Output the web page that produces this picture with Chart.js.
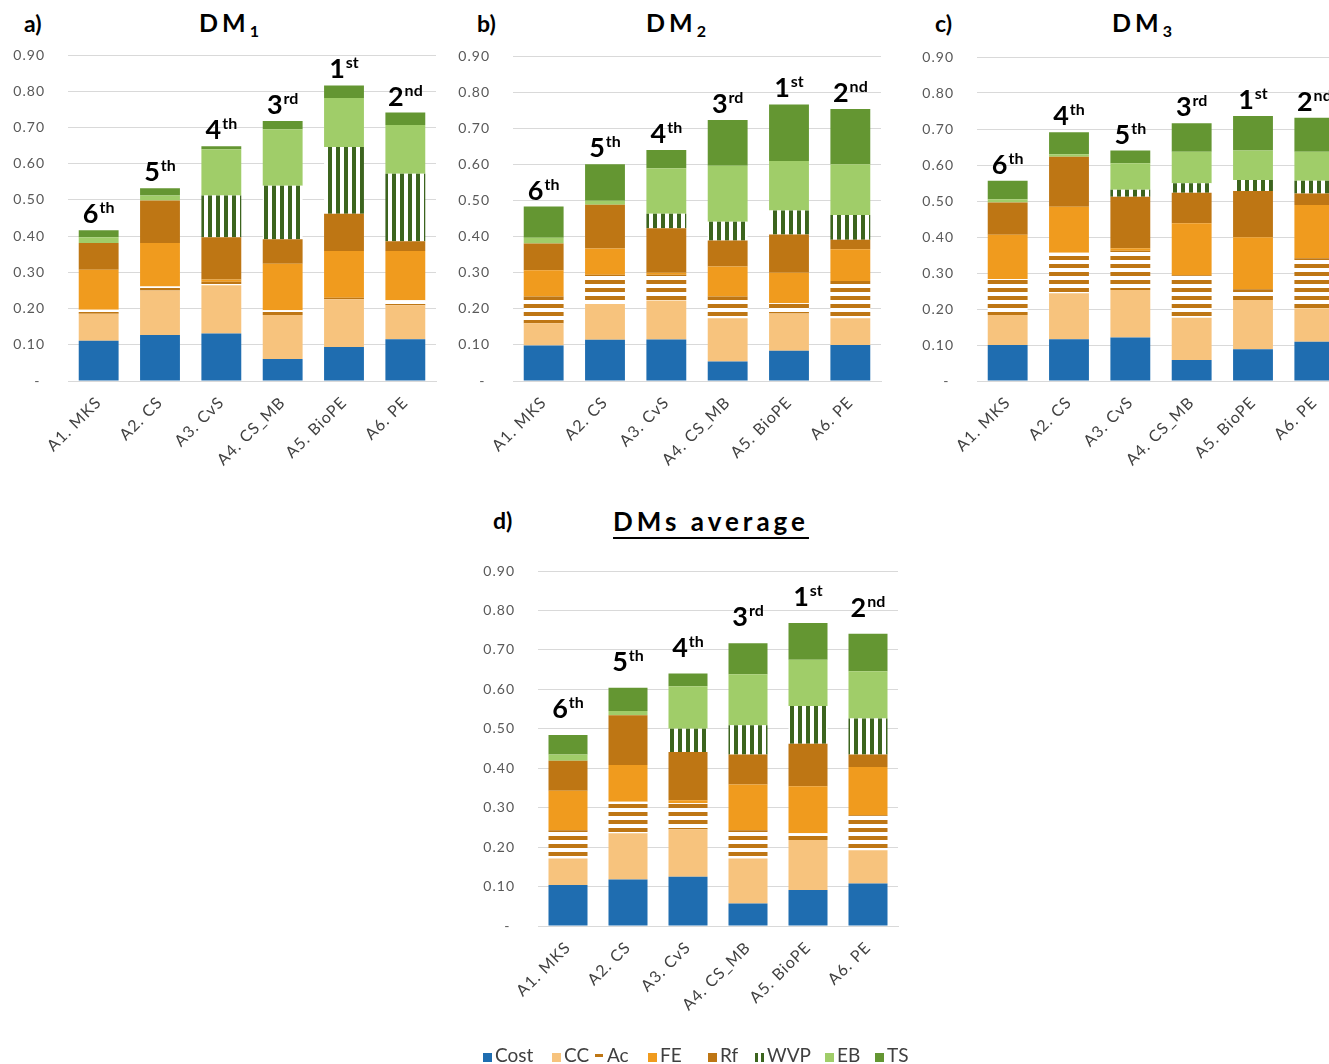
<!DOCTYPE html>
<html>
<head>
<meta charset="utf-8">
<script src="https://cdn.jsdelivr.net/npm/chart.js@4.4.1/dist/chart.umd.min.js"></script>
<style>
  body { margin: 0; width: 1329px; height: 1064px; overflow: hidden; position: relative; background: #fff; font-family: Lato, "Open Sans", sans-serif; color: #000; }
  canvas { position: absolute; }
  .tag { position: absolute; font-weight: bold; font-size: 23px; line-height: 1; }
  .ttl { position: absolute; width: 200px; text-align: center; font-weight: bold; font-size: 25px; letter-spacing: 4px; line-height: 1; }
  .ttl sub { font-size: 16px; letter-spacing: 0; vertical-align: -5px; }
  .avg { width: 300px; font-size: 26px; text-decoration: underline; text-decoration-thickness: 2px; text-underline-offset: 6px; }
  .leg { position: absolute; top: 1045px; font-size: 19px; line-height: 1; color: #404040; white-space: nowrap; }
  .sw { display: inline-block; width: 9px; height: 9px; margin-right: 3px; vertical-align: 0; }
  .dash { display: inline-block; width: 8px; height: 3px; margin-right: 4px; vertical-align: 5px; background: #be7614; }
  .bars { display: inline-block; width: 10px; height: 9px; margin-right: 2px; vertical-align: 0;
          background: linear-gradient(to right, #3c641e 0 3px, transparent 3px 6px, #3c641e 6px 9px, transparent 9px); }
</style>
</head>
<body>

<div class="tag" style="left:24px;top:12px">a)</div>
<div class="ttl" style="left:129px;top:10px">DM<sub>1</sub></div>
<div class="tag" style="left:477px;top:12px">b)</div>
<div class="ttl" style="left:576px;top:10px">DM<sub>2</sub></div>
<div class="tag" style="left:935px;top:12px">c)</div>
<div class="ttl" style="left:1042px;top:10px">DM<sub>3</sub></div>
<div class="tag" style="left:493px;top:509px">d)</div>
<div class="ttl avg" style="left:561px;top:508px">DMs average</div>

<canvas id="chartDM1" width="450" height="490" style="left:0;top:0"></canvas>
<canvas id="chartDM2" width="450" height="490" style="left:445px;top:0"></canvas>
<canvas id="chartDM3" width="450" height="490" style="left:909px;top:0"></canvas>
<canvas id="chartAvg" width="442" height="564" style="left:470px;top:500px"></canvas>

<div class="leg" style="left:483px"><span class="sw" style="background:#1f6db0"></span>Cost</div>
<div class="leg" style="left:552px"><span class="sw" style="background:#f7c37d"></span>CC</div>
<div class="leg" style="left:595px"><span class="dash"></span>Ac</div>
<div class="leg" style="left:648px"><span class="sw" style="background:#f09b1e"></span>FE</div>
<div class="leg" style="left:708px"><span class="sw" style="background:#be7614"></span>Rf</div>
<div class="leg" style="left:755px"><span class="bars"></span>WVP</div>
<div class="leg" style="left:825px"><span class="sw" style="background:#a0cd69"></span>EB</div>
<div class="leg" style="left:875px"><span class="sw" style="background:#649632"></span>TS</div>

<script>
// Alternatives on the x axis
const categories = ['A1. MKS', 'A2. CS', 'A3. CvS', 'A4. CS_MB', 'A5. BioPE', 'A6. PE'];
// Criteria, stacked bottom to top
const criteria = ['Cost', 'CC', 'Ac', 'FE', 'Rf', 'WVP', 'EB', 'TS'];
// Value axis ticks
const yMax = 0.9;
const yStep = 0.1;

// Weighted scores, one row per criterion (same order as `criteria`), one column per alternative
const dm1Scores = [
  [0.111, 0.127, 0.131, 0.061, 0.094, 0.115], // Cost
  [0.075, 0.123, 0.133, 0.121, 0.132, 0.094], // CC
  [0.011, 0.011, 0.010, 0.013, 0.004, 0.014], // Ac
  [0.110, 0.120, 0.006, 0.129, 0.129, 0.136], // FE
  [0.074, 0.117, 0.117, 0.067, 0.103, 0.027], // Rf
  [0.000, 0.000, 0.115, 0.148, 0.184, 0.186], // WVP
  [0.016, 0.014, 0.128, 0.156, 0.135, 0.135], // EB
  [0.019, 0.020, 0.008, 0.023, 0.035, 0.034]  // TS
];
const dm2Scores = [
  [0.098, 0.114, 0.115, 0.054, 0.084, 0.100],
  [0.062, 0.099, 0.108, 0.120, 0.103, 0.074],
  [0.074, 0.081, 0.071, 0.060, 0.028, 0.103],
  [0.073, 0.073, 0.006, 0.083, 0.085, 0.088],
  [0.074, 0.121, 0.123, 0.072, 0.106, 0.026],
  [0.000, 0.000, 0.040, 0.052, 0.066, 0.069],
  [0.016, 0.011, 0.126, 0.155, 0.137, 0.140],
  [0.086, 0.101, 0.051, 0.127, 0.157, 0.153]
];
const dm3Scores = [
  [0.100, 0.116, 0.121, 0.058, 0.088, 0.109],
  [0.083, 0.128, 0.132, 0.118, 0.137, 0.093],
  [0.100, 0.112, 0.109, 0.118, 0.030, 0.139],
  [0.123, 0.128, 0.007, 0.144, 0.144, 0.148],
  [0.090, 0.139, 0.143, 0.085, 0.129, 0.032],
  [0.000, 0.000, 0.019, 0.026, 0.030, 0.035],
  [0.009, 0.007, 0.074, 0.088, 0.082, 0.081],
  [0.051, 0.061, 0.035, 0.079, 0.096, 0.094]
];
const avgScores = [
  [0.104, 0.118, 0.125, 0.057, 0.091, 0.108],
  [0.067, 0.117, 0.120, 0.114, 0.127, 0.084],
  [0.072, 0.080, 0.066, 0.072, 0.017, 0.089],
  [0.100, 0.093, 0.008, 0.116, 0.119, 0.122],
  [0.076, 0.126, 0.122, 0.076, 0.108, 0.032],
  [0.000, 0.000, 0.059, 0.074, 0.096, 0.091],
  [0.016, 0.011, 0.108, 0.129, 0.117, 0.120],
  [0.049, 0.059, 0.032, 0.079, 0.093, 0.095]
];

// Final ranking of each alternative
const dm1Ranks = [6, 5, 4, 3, 1, 2];
const dm2Ranks = [6, 5, 4, 3, 1, 2];
const dm3Ranks = [6, 4, 5, 3, 1, 2];
const avgRanks = [6, 5, 4, 3, 1, 2];

function ordinalSuffix(n) {
  return n === 1 ? 'st' : n === 2 ? 'nd' : n === 3 ? 'rd' : 'th';
}

// Striped fills for Ac (horizontal) and WVP (vertical)
function stripes(vertical, fg, bg, band, period) {
  const c = document.createElement('canvas');
  c.width = vertical ? period : 4;
  c.height = vertical ? 4 : period;
  const g = c.getContext('2d');
  g.fillStyle = bg;
  g.fillRect(0, 0, c.width, c.height);
  g.fillStyle = fg;
  if (vertical) g.fillRect(0, 0, band, c.height); else g.fillRect(0, 0, c.width, band);
  return g.createPattern(c, 'repeat');
}

const fills = [
  '#1f6db0',                                   // Cost
  '#f7c37d',                                   // CC
  stripes(false, '#be7614', '#ffffff', 4, 8),  // Ac
  '#f09b1e',                                   // FE
  '#be7614',                                   // Rf
  stripes(true, '#3c641e', '#ffffff', 4, 8),   // WVP
  '#a0cd69',                                   // EB
  '#649632'                                    // TS
];

// Slightly tracked axis text
const trackingPlugin = {
  id: 'tracking',
  beforeDraw(chart) { chart.ctx.letterSpacing = '1px'; },
  afterDraw(chart) { chart.ctx.letterSpacing = '0px'; }
};

// Rank ordinal ("1st", "2nd", ...) above each stacked column
const rankPlugin = {
  id: 'rankLabels',
  afterDatasetsDraw(chart, args, opts) {
    const ranks = opts.ranks;
    if (!ranks) return;
    const ctx = chart.ctx;
    ranks.forEach((r, i) => {
      let top = Infinity, x = 0;
      chart.data.datasets.forEach((ds, d) => {
        const el = chart.getDatasetMeta(d).data[i];
        if (el) { top = Math.min(top, el.y, el.base); x = el.x; }
      });
      const num = String(r), suf = ordinalSuffix(r);
      ctx.save();
      ctx.letterSpacing = '0px';
      ctx.fillStyle = '#000';
      ctx.textAlign = 'left';
      ctx.textBaseline = 'alphabetic';
      ctx.font = 'bold 27px Lato';
      const w1 = ctx.measureText(num).width;
      ctx.font = 'bold 16px Lato';
      const w2 = ctx.measureText(suf).width;
      const x0 = x - (w1 + w2 + 1) / 2;
      const base = top - opts.gap;
      ctx.font = 'bold 27px Lato';
      ctx.fillText(num, x0, base);
      ctx.font = 'bold 16px Lato';
      ctx.fillText(suf, x0 + w1 + 1, base - 10);
      ctx.restore();
    });
  }
};

function drawPanel(canvasId, scores, ranks, geom) {
  return new Chart(document.getElementById(canvasId), {
    type: 'bar',
    data: {
      labels: categories,
      datasets: criteria.map((name, k) => ({
        label: name,
        data: scores[k],
        backgroundColor: fills[k],
        borderWidth: 0,
        barPercentage: 0.65,
        categoryPercentage: 1.0
      }))
    },
    options: {
      responsive: false,
      animation: false,
      layout: { padding: { top: geom.top, right: geom.right, left: 0, bottom: 0 } },
      plugins: {
        legend: { display: false },
        tooltip: { enabled: false },
        rankLabels: { ranks: ranks, gap: geom.gap }
      },
      scales: {
        x: {
          stacked: true,
          grid: { display: false, drawTicks: false },
          border: { color: '#d9d9d9' },
          ticks: { minRotation: 45, maxRotation: 45, padding: 12, color: '#404040', font: { size: 16, family: 'Lato' } },
          afterFit(s) { s.height = geom.xHeight; }
        },
        y: {
          stacked: true,
          min: 0,
          max: yMax,
          grid: { color: '#d9d9d9', drawTicks: false },
          border: { display: false },
          ticks: {
            stepSize: yStep,
            padding: 23,
            color: '#595959',
            font: { size: 14, family: 'Lato' },
            callback: v => Math.abs(v) < 1e-9 ? '- ' : v.toFixed(2)
          },
          afterFit(s) { s.width = 68; }
        }
      }
    },
    plugins: [trackingPlugin, rankPlugin]
  });
}

drawPanel('chartDM1', dm1Scores, dm1Ranks, { top: 55, right: 14, xHeight: 109, gap: 7 });
drawPanel('chartDM2', dm2Scores, dm2Ranks, { top: 56, right: 14, xHeight: 109, gap: 7 });
drawPanel('chartDM3', dm3Scores, dm3Ranks, { top: 57, right: 14, xHeight: 109, gap: 7 });
drawPanel('chartAvg', avgScores, avgRanks, { top: 71, right: 14, xHeight: 138, gap: 17 });
</script>
</body>
</html>
